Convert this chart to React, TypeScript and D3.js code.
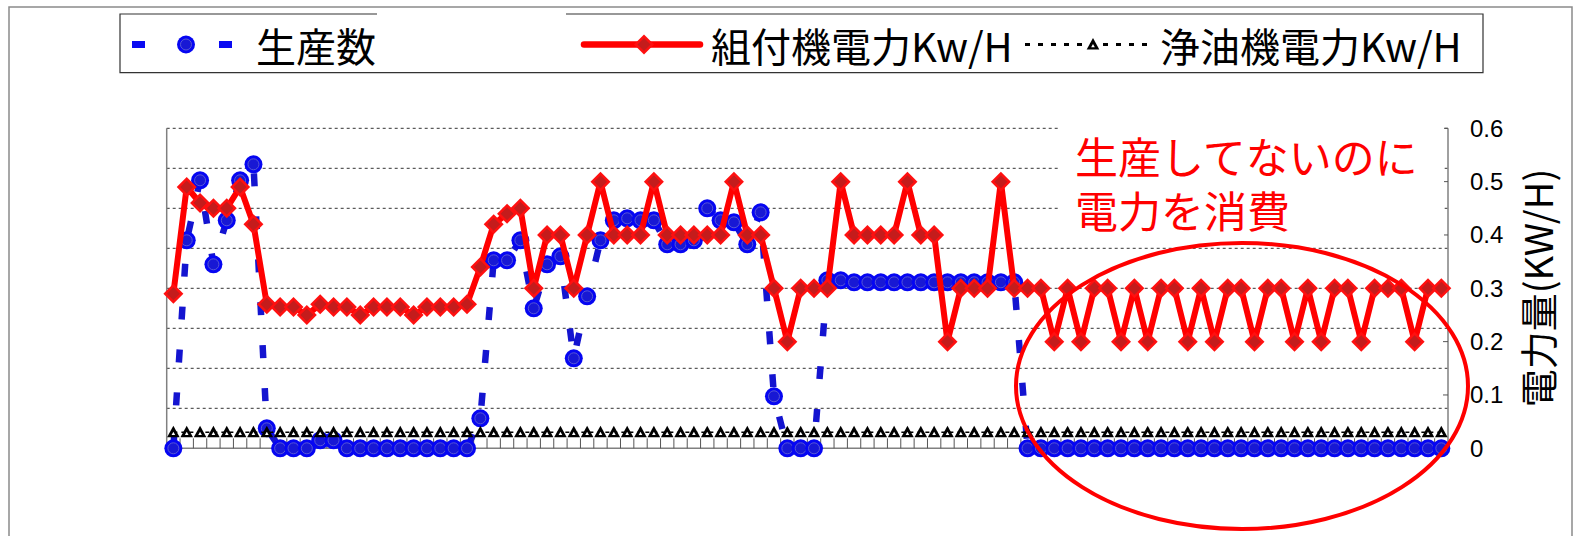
import React from "react";
import * as d3 from "d3";

// ---- data ----
const slots: number[] = d3.range(96); // 15-minute slots (no labels shown)

const production: number[] = [
  0, 52, 67, 46, 57, 67, 71, 5, 0, 0,
  0, 2, 2, 0, 0, 0, 0, 0, 0, 0,
  0, 0, 0, 7.5, 47, 47, 52, 35, 46, 48,
  22.5, 38, 52, 57, 57.5, 57, 57, 51, 51, 52,
  60, 57, 56.5, 51, 59, 13, 0, 0, 0, 42,
  42, 41.5, 41.5, 41.5, 41.5, 41.5, 41.5, 41.5, 41.5, 41.5,
  41.5, 41.5, 41.5, 41.5, 0, 0, 0, 0, 0, 0,
  0, 0, 0, 0, 0, 0, 0, 0, 0, 0,
  0, 0, 0, 0, 0, 0, 0, 0, 0, 0,
  0, 0, 0, 0, 0, 0,
];

const assemblyPower: number[] = [
  0.29, 0.49, 0.46, 0.45, 0.45, 0.49, 0.42, 0.27, 0.265, 0.265,
  0.25, 0.27, 0.265, 0.265, 0.25, 0.265, 0.265, 0.265, 0.25, 0.265,
  0.265, 0.265, 0.27, 0.34, 0.42, 0.44, 0.45, 0.3, 0.4, 0.4,
  0.3, 0.4, 0.5, 0.4, 0.4, 0.4, 0.5, 0.4, 0.4, 0.4,
  0.4, 0.4, 0.5, 0.4, 0.4, 0.3, 0.2, 0.3, 0.3, 0.3,
  0.5, 0.4, 0.4, 0.4, 0.4, 0.5, 0.4, 0.4, 0.2, 0.3,
  0.3, 0.3, 0.5, 0.3, 0.3, 0.3, 0.2, 0.3, 0.2, 0.3,
  0.3, 0.2, 0.3, 0.2, 0.3, 0.3, 0.2, 0.3, 0.2, 0.3,
  0.3, 0.2, 0.3, 0.3, 0.2, 0.3, 0.2, 0.3, 0.3, 0.2,
  0.3, 0.3, 0.3, 0.2, 0.3, 0.3,
];

const oilPower: number[] = [
  0.03, 0.03, 0.03, 0.03, 0.03, 0.03, 0.03, 0.03, 0.03, 0.03,
  0.03, 0.03, 0.03, 0.03, 0.03, 0.03, 0.03, 0.03, 0.03, 0.03,
  0.03, 0.03, 0.03, 0.03, 0.03, 0.03, 0.03, 0.03, 0.03, 0.03,
  0.03, 0.03, 0.03, 0.03, 0.03, 0.03, 0.03, 0.03, 0.03, 0.03,
  0.03, 0.03, 0.03, 0.03, 0.03, 0.03, 0.03, 0.03, 0.03, 0.03,
  0.03, 0.03, 0.03, 0.03, 0.03, 0.03, 0.03, 0.03, 0.03, 0.03,
  0.03, 0.03, 0.03, 0.03, 0.03, 0.03, 0.03, 0.03, 0.03, 0.03,
  0.03, 0.03, 0.03, 0.03, 0.03, 0.03, 0.03, 0.03, 0.03, 0.03,
  0.03, 0.03, 0.03, 0.03, 0.03, 0.03, 0.03, 0.03, 0.03, 0.03,
  0.03, 0.03, 0.03, 0.03, 0.03, 0.03,
];

const rightTicks: number[] = [0, 0.1, 0.2, 0.3, 0.4, 0.5, 0.6];
const seriesNames: string[] = ["生産数", "組付機電力Kw/H", "浄油機電力Kw/H"];
const axisTitle = "電力量(KW/H)";
const noteLines: string[] = ["生産してないのに", "電力を消費"];

// ---- layout ----
const W = 1582;
const H = 536;
const L = 166.7;
const R = 1448;
const T = 128.3;
const B = 448.3;

const JP = "'Noto Sans CJK JP', 'Noto Sans', sans-serif";
const LAT = "'Liberation Sans', Arial, sans-serif";

export default function App() {
  const x = d3.scaleBand<number>().domain(slots).range([L, R]).padding(0);
  const cx = (i: number) => (x(i) as number) + x.bandwidth() / 2;
  const yLeft = d3.scaleLinear().domain([0, 80]).range([B, T]);
  const yRight = d3.scaleLinear().domain([0, 0.6]).range([B, T]);

  const blueLine = d3.line<number>().x((_, i) => cx(i)).y((d) => yLeft(d))(production) as string;
  const redLine = d3.line<number>().x((_, i) => cx(i)).y((d) => yRight(d))(assemblyPower) as string;
  const blackLine = d3.line<number>().x((_, i) => cx(i)).y((d) => yRight(d))(oilPower) as string;

  const grid = yLeft.ticks(8).filter((v) => v > 0);

  const circleMarker = (px: number, py: number, key: string | number) => (
    <g key={key}>
      <circle cx={px} cy={py} r={9} fill="#0606f2" />
      <circle cx={px} cy={py} r={5.5} fill="#1818d4" stroke="#5858d4" strokeWidth={1} />
    </g>
  );
  const diamondMarker = (px: number, py: number, key: string | number) => (
    <g key={key}>
      <path d={`M${px},${py - 10}L${px + 10},${py}L${px},${py + 10}L${px - 10},${py}Z`} fill="#ff1010" />
      <path d={`M${px},${py - 6.5}L${px + 6.5},${py}L${px},${py + 6.5}L${px - 6.5},${py}Z`} fill="#c41c1c" />
    </g>
  );
  const triMarker = (px: number, py: number, key: string | number) => (
    <g key={key}>
      <path d={`M${px},${py - 6.5}L${px + 6.3},${py + 5}L${px - 6.3},${py + 5}Z`} fill="#000" />
      <path d={`M${px},${py - 0.5}L${px + 1.8},${py + 2.8}L${px - 1.8},${py + 2.8}Z`} fill="#fff" />
    </g>
  );

  const legendY = 44.5;

  return (
    <svg width={W} height={H} style={{ position: "absolute", left: 0, top: 0, background: "#fff" }}>
      <rect x={0} y={0} width={W} height={H} fill="#fff" />
      {/* outer border */}
      <rect x={9} y={7} width={1563} height={560} fill="none" stroke="#8a8a8a" strokeWidth={1.5} />

      {/* legend */}
      <path d="M377,14H120V72.6H1483V14H566" fill="none" stroke="#333" strokeWidth={1.2} />
      <line x1={132} x2={145} y1={legendY} y2={legendY} stroke="#0a0af2" strokeWidth={7} />
      <line x1={219} x2={232} y1={legendY} y2={legendY} stroke="#0a0af2" strokeWidth={7} />
      {circleMarker(186, legendY, "lc")}
      <text x={256} y={legendY} dominantBaseline="central" fontFamily={JP} fontSize={40} fill="#000">
        {seriesNames[0]}
      </text>
      <line x1={584} x2={700} y1={legendY} y2={legendY} stroke="#ff0000" strokeWidth={6.5} strokeLinecap="round" />
      {diamondMarker(644, legendY, "ld")}
      <text x={711} y={legendY} dominantBaseline="central" fontFamily={JP} fontSize={40} fill="#000">
        {seriesNames[1]}
      </text>
      <line x1={1025} x2={1152} y1={legendY} y2={legendY} stroke="#000" strokeWidth={3} strokeDasharray="5,8" />
      {triMarker(1093, legendY, "lt")}
      <text x={1160} y={legendY} dominantBaseline="central" fontFamily={JP} fontSize={40} fill="#000">
        {seriesNames[2]}
      </text>

      {/* gridlines */}
      {grid.map((g) => (
        <line key={g} x1={L} x2={R} y1={yLeft(g)} y2={yLeft(g)} stroke="#333" strokeWidth={1} strokeDasharray="3,3" />
      ))}

      {/* axes */}
      <line x1={L} x2={L} y1={T} y2={B} stroke="#808080" strokeWidth={1.5} />
      <line x1={R} x2={R} y1={T} y2={B} stroke="#808080" strokeWidth={1.5} />
      <line x1={L} x2={R} y1={B} y2={B} stroke="#808080" strokeWidth={1.5} />
      {d3.range(1, 96).map((i) => (
        <line key={"xt" + i} x1={x(i) as number} x2={x(i) as number} y1={B} y2={B - 10} stroke="#555" strokeWidth={1} />
      ))}
      {rightTicks.map((t) => (
        <line key={"rt" + t} x1={R - 5} x2={R} y1={yRight(t)} y2={yRight(t)} stroke="#555" strokeWidth={1} />
      ))}
      {rightTicks.map((t) => (
        <text key={"rl" + t} x={1470} y={yRight(t)} dominantBaseline="central" fontFamily={LAT} fontSize={24} fill="#000">
          {String(t)}
        </text>
      ))}
      <text
        transform={`translate(1536,288) rotate(-90)`}
        textAnchor="middle"
        dominantBaseline="central"
        fontFamily={JP}
        fontSize={38}
        fill="#000"
      >
        {axisTitle}
      </text>

      {/* production series */}
      <path d={blueLine} fill="none" stroke="#1414d0" strokeWidth={6.5} strokeDasharray="13,30" />
      {production.map((v, i) => circleMarker(cx(i), yLeft(v), "b" + i))}

      {/* oil purifier series */}
      <path d={blackLine} fill="none" stroke="#000" strokeWidth={1.5} strokeDasharray="4,4" />
      {oilPower.map((v, i) => triMarker(cx(i), yRight(v), "k" + i))}

      {/* assembly machine series */}
      <path d={redLine} fill="none" stroke="#ff0000" strokeWidth={6} strokeLinejoin="round" />
      {assemblyPower.map((v, i) => diamondMarker(cx(i), yRight(v), "r" + i))}

      {/* annotation */}
      <rect x={1058} y={118} width={386} height={122} fill="#fff" />
      <text x={1075} y={155} fontFamily={JP} fontSize={43} fill="#ff0000" dominantBaseline="central">
        {noteLines.map((s, k) => (
          <tspan key={s} x={1075} dy={k === 0 ? 0 : 54}>
            {s}
          </tspan>
        ))}
      </text>
      <ellipse cx={1242} cy={386} rx={226} ry={143} fill="none" stroke="#ff0000" strokeWidth={4} />
    </svg>
  );
}
